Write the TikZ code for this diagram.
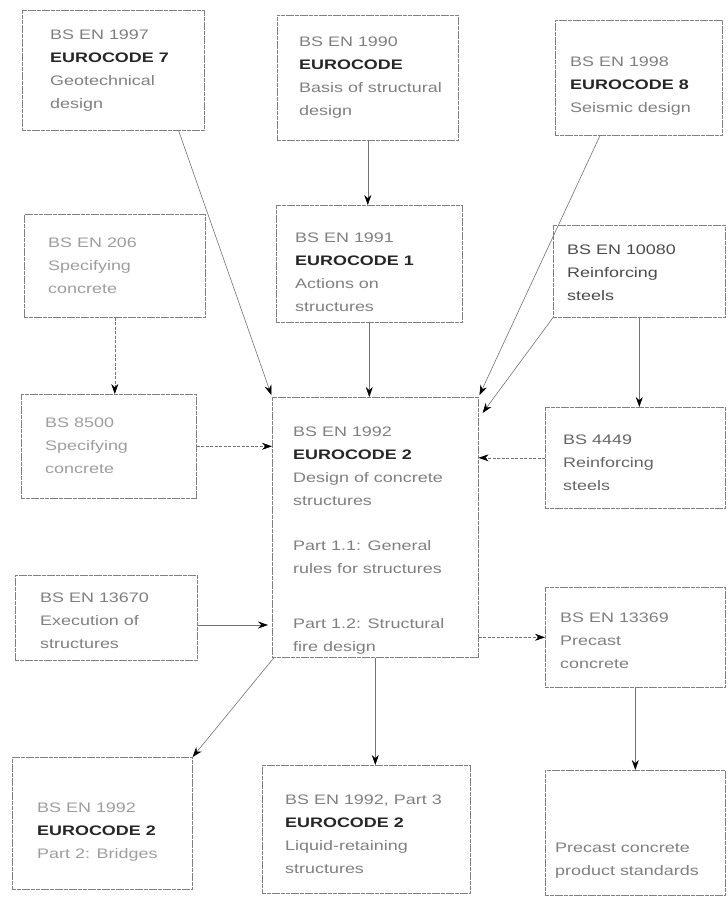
\documentclass[tikz,border=0pt]{standalone}
\usepackage{fontspec}
\setmainfont{Liberation Sans}[FakeStretch=1.3]
\usetikzlibrary{arrows.meta,calc}
\begin{document}
\begin{tikzpicture}[x=1pt,y=-1pt,
  box/.style={draw=black!50, line width=0.6pt, dash pattern=on 4pt off 0.7pt, rectangle, inner sep=0pt, anchor=north west},
  txt/.style={font=\fontsize{13.8}{23}\selectfont, align=left, inner sep=0pt, anchor=north west, text=black!50},
  faint/.style={text=black!38},
  arr/.style={draw=black!55, line width=0.6pt, -{Stealth[length=10pt,width=7pt,black]}},
  dsh/.style={dash pattern=on 3pt off 1.5pt}
]
\newcommand{\ec}[1]{\textbf{\textcolor{black!85}{#1}}}
\useasboundingbox (0,0) rectangle (728,897);
\fill[white] (0,0) rectangle (728,897);

% boxes
\node[box, minimum width=182pt, minimum height=120pt] (ec7) at (22,10) {};
\node[box, minimum width=181pt, minimum height=125pt] (ec0) at (277,15) {};
\node[box, minimum width=167pt, minimum height=115pt] (ec8) at (555,20) {};
\node[box, minimum width=181pt, minimum height=103pt] (en206) at (24,214) {};
\node[box, minimum width=186pt, minimum height=117pt] (ec1) at (276,205) {};
\node[box, minimum width=172pt, minimum height=92pt] (en10080) at (553,225) {};
\node[box, minimum width=175pt, minimum height=104pt] (bs8500) at (21,394) {};
\node[box, minimum width=206pt, minimum height=260pt] (ec2) at (272,397) {};
\node[box, minimum width=180pt, minimum height=101pt] (bs4449) at (545,407) {};
\node[box, minimum width=182pt, minimum height=85pt] (en13670) at (15,575) {};
\node[box, minimum width=180pt, minimum height=100pt] (en13369) at (545,587) {};
\node[box, minimum width=180pt, minimum height=132pt] (bridges) at (12,757) {};
\node[box, minimum width=208pt, minimum height=128pt] (liquid) at (262,765) {};
\node[box, minimum width=180pt, minimum height=125pt] (precps) at (545,770) {};

% texts
\node[txt] (ec7t) at (50,30) {BS EN 1997\\\ec{EUROCODE 7}\\Geotechnical\\design};
\node[txt] (ec0t) at (299,37) {BS EN 1990\\\ec{EUROCODE}\\Basis of structural\\design};
\node[txt] (ec8t) at (570,57) {BS EN 1998\\\ec{EUROCODE 8}\\Seismic design};
\node[txt, faint] (en206t) at (48,238) {BS EN 206\\Specifying\\concrete};
\node[txt] (ec1t) at (295,233) {BS EN 1991\\\ec{EUROCODE 1}\\Actions on\\structures};
\node[txt, text=black!70] (en10080t) at (567,245) {BS EN 10080\\Reinforcing\\steels};
\node[txt, faint] (bs8500t) at (45,418) {BS 8500\\Specifying\\concrete};
\node[txt] (ec2t) at (293,427) {BS EN 1992\\\ec{EUROCODE 2}\\Design of concrete\\structures\\[22pt]Part 1.1: General\\rules for structures\\[32pt]Part 1.2: Structural\\fire design};
\node[txt, text=black!60] (bs4449t) at (563,435) {BS 4449\\Reinforcing\\steels};
\node[txt] (en13670t) at (40,593) {BS EN 13670\\Execution of\\structures};
\node[txt] (en13369t) at (560,613) {BS EN 13369\\Precast\\concrete};
\node[txt, faint] (bridgest) at (37,803) {BS EN 1992\\\ec{EUROCODE 2}\\Part 2: Bridges};
\node[txt] (liquidt) at (285,795) {BS EN 1992, Part 3\\\ec{EUROCODE 2}\\Liquid-retaining\\structures};
\node[txt] (precpst) at (555,843) {Precast concrete\\product standards};

% connectors
\draw[arr] (ec0.south) -- (ec0.south |- ec1.north);
\draw[arr, dsh] (en206.south) -- (en206.south |- bs8500.north);
\draw[arr] (ec1.south) -- (ec1.south |- ec2.north);
\draw[arr, shorten >=2pt] ($(ec7.south east)+(-26,0)$) -- (ec2.north west);
\draw[arr, shorten >=2pt] ($(ec8.south west)+(45,0)$) -- (ec2.north east);
\draw[arr] (en10080.south west) -- ($(ec2.north east)+(4,16)$);
\draw[arr] (en10080.south) -- (en10080.south |- bs4449.north);
\draw[arr, dsh] (bs8500.east) -- (bs8500.east -| ec2.west);
\draw[arr, dsh] (bs4449.west) -- (bs4449.west -| ec2.east);
\draw[arr] ($(en13670.north east)+(0,50)$) -- ($(en13670.north east -| ec2.west)+(-4,50)$);
\draw[arr, dsh] (en13369.west -| ec2.east) -- (en13369.west);
\draw[arr] (en13369.south) -- (en13369.south |- precps.north);
\draw[arr] (ec2.south) -- (ec2.south |- liquid.north);
\draw[arr] ($(ec2.south west)+(2,0)$) -- (bridges.north east);
\end{tikzpicture}
\end{document}
